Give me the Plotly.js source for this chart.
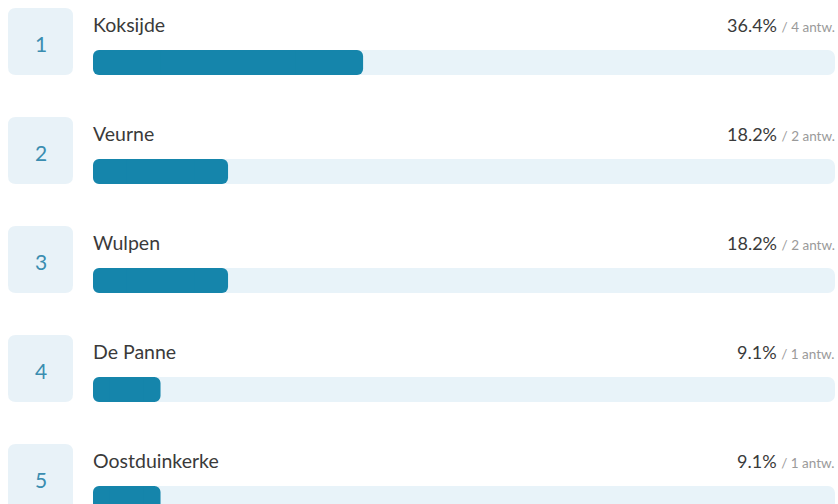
<!DOCTYPE html>
<html>
<head>
<meta charset="utf-8">
<script src="https://cdn.plot.ly/plotly-3.0.1.min.js"></script>
<style>html,body{margin:0;padding:0;background:#fff;}#chart{width:838px;height:504px;}</style>
</head>
<body>
<div id="chart"></div>
<script>
const categories = ["Koksijde", "Veurne", "Wulpen", "De Panne", "Oostduinkerke"];
const ranks = [1, 2, 3, 4, 5];
const percentages = [36.4, 18.2, 18.2, 9.1, 9.1];
const answers = [4, 2, 2, 1, 1];
const trackMax = 100;

const FONT = "Lato, 'Source Sans Pro', 'Open Sans', sans-serif";
const BAR_COLOR = "#1585ab";
const TRACK_COLOR = "#e8f3f9";

// vertical geometry: 109 px per row, first bar centred at 62.5 px, bars 25 px high
const ROW_PX = 109, FIRST_PX = 62.5, BAR_PX = 25, H = 504;
const BAR_W = BAR_PX / ROW_PX;
const yRange = [1 + (H - FIRST_PX) / ROW_PX, 1 - FIRST_PX / ROW_PX];

// Each bar: two rounded halves meeting in the middle plus a middle piece,
// so that both ends of the bar get rounded corners.
function roundedBar(values, color, radius) {
  const half = values.map(v => v / 2);
  const common = {type: "bar", orientation: "h", y: ranks, width: BAR_W,
                  hoverinfo: "skip", showlegend: false};
  return [
    {...common, base: half, x: half, marker: {color: color, cornerradius: radius, line: {width: 0}}},
    {...common, base: half, x: half.map(v => -v), marker: {color: color, cornerradius: radius, line: {width: 0}}},
    {...common, base: values.map(v => v / 4), x: half, marker: {color: color, cornerradius: 1, line: {width: 0}}}
  ];
}

const traces = [
  ...roundedBar(ranks.map(() => trackMax), TRACK_COLOR, 7),
  ...roundedBar(percentages, BAR_COLOR, 6)
];

function roundRectPath(cx, cy, w, h, r) {
  const x0 = cx - w / 2, x1 = cx + w / 2, y0 = cy - h / 2, y1 = cy + h / 2;
  return `M ${x0 + r},${y0} L ${x1 - r},${y0} Q ${x1},${y0} ${x1},${y0 + r} ` +
         `L ${x1},${y1 - r} Q ${x1},${y1} ${x1 - r},${y1} ` +
         `L ${x0 + r},${y1} Q ${x0},${y1} ${x0},${y1 - r} ` +
         `L ${x0},${y0 + r} Q ${x0},${y0} ${x0 + r},${y0} Z`;
}

const boxXAnchor = (40.5 - 93) / 742;
const shapes = ranks.map(r => ({
  type: "path", xref: "paper", yref: "y",
  xsizemode: "pixel", ysizemode: "pixel",
  xanchor: boxXAnchor, yanchor: r,
  path: roundRectPath(0, 21, 65, 67, 8),
  fillcolor: "#e8f2f8", line: {width: 0}, layer: "below"
}));

const annotations = [];
categories.forEach((c, i) => {
  annotations.push({
    xref: "paper", yref: "y", x: 0, y: ranks[i], yshift: 38, xshift: -2,
    xanchor: "left", yanchor: "middle", showarrow: false,
    text: c, font: {family: FONT, size: 19.5, color: "#3a3a3a"}
  });
  annotations.push({
    xref: "x", yref: "y", x: trackMax, y: ranks[i], yshift: 38, xshift: 2,
    xanchor: "right", yanchor: "middle", showarrow: false,
    text: percentages[i].toFixed(1) + "% <span style='font-size:13.5px;color:#9a9a9a'>/ " + answers[i] + " antw.</span>",
    font: {family: FONT, size: 18, color: "#3a3a3a"}
  });
  annotations.push({
    xref: "paper", yref: "y", x: boxXAnchor, y: ranks[i], yshift: 19.5,
    xanchor: "center", yanchor: "middle", showarrow: false,
    text: String(ranks[i]), font: {family: FONT, size: 21, color: "#3a8db0"}
  });
});

const layout = {
  width: 838, height: H,
  margin: {l: 93, r: 3, t: 0, b: 0, pad: 0},
  paper_bgcolor: "#ffffff", plot_bgcolor: "#ffffff",
  barmode: "overlay",
  xaxis: {range: [0, 100], visible: false, fixedrange: true},
  yaxis: {range: yRange, visible: false, fixedrange: true},
  shapes: shapes, annotations: annotations,
  showlegend: false, hovermode: false
};

Plotly.newPlot("chart", traces, layout, {displayModeBar: false, staticPlot: true});
</script>
</body>
</html>
